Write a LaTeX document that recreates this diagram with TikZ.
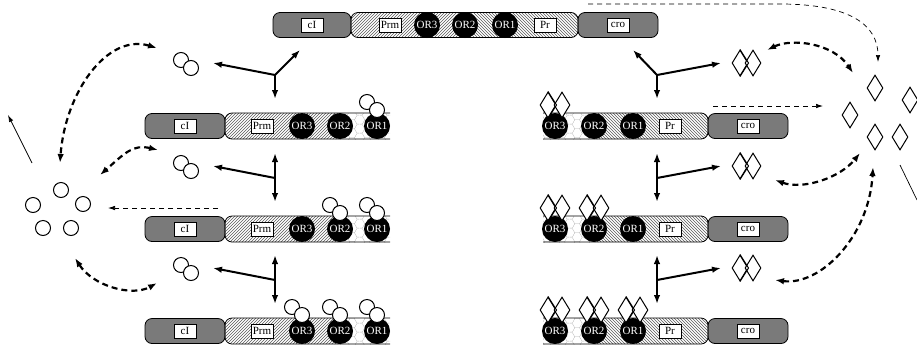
\documentclass[tikz,border=0pt]{standalone}
\usepackage{fontspec}
\setmainfont{Liberation Serif}
\usetikzlibrary{arrows.meta,patterns,shapes.geometric,positioning}

\pgfdeclarepatternformonly{hexcells}{\pgfpointorigin}{\pgfpoint{15pt}{8.66pt}}{\pgfpoint{15pt}{8.66pt}}{%
  \pgfsetlinewidth{0.3pt}%
  \pgfpathmoveto{\pgfpoint{0pt}{0pt}}\pgfpathlineto{\pgfpoint{2.5pt}{0pt}}%
  \pgfpathlineto{\pgfpoint{5pt}{4.33pt}}\pgfpathlineto{\pgfpoint{2.5pt}{8.66pt}}%
  \pgfpathlineto{\pgfpoint{0pt}{8.66pt}}%
  \pgfpathmoveto{\pgfpoint{5pt}{4.33pt}}\pgfpathlineto{\pgfpoint{10pt}{4.33pt}}%
  \pgfpathmoveto{\pgfpoint{15pt}{0pt}}\pgfpathlineto{\pgfpoint{12.5pt}{0pt}}%
  \pgfpathlineto{\pgfpoint{10pt}{4.33pt}}\pgfpathlineto{\pgfpoint{12.5pt}{8.66pt}}%
  \pgfpathlineto{\pgfpoint{15pt}{8.66pt}}%
  \pgfusepath{stroke}}

\begin{document}
\begin{tikzpicture}[x=1pt, y=-1pt, font=\fontsize{11}{12}\selectfont, line width=0.8pt,
  >={Latex[length=9pt,width=6.5pt]},
  gene/.style={draw, rounded corners=7pt, fill=black!52, minimum height=25pt, inner sep=0pt},
  seg/.style={draw, rounded corners=7pt},
  hatchPrm/.style={pattern=north east lines, pattern color=black!65},
  hatchPr/.style={pattern=north west lines, pattern color=black!65},
  honey/.style={pattern=hexcells, pattern color=black!30},
  tag/.style={draw, fill=white, minimum height=14pt, minimum width=22pt, inner sep=2pt, line width=0.6pt},
  opr/.style={circle, fill=black, text=white, minimum size=26pt, inner sep=0pt},
  ci/.style={circle, draw, fill=white, minimum size=15pt, inner sep=0pt, line width=1pt},
  cro/.style={diamond, draw, fill=white, minimum width=16pt, minimum height=26pt, inner sep=0pt, line width=1pt},
  bind/.style={line width=2pt},
  flow/.style={line width=2.2pt, dash pattern=on 6pt off 4pt, <->},
  leak/.style={line width=0.7pt, dash pattern=on 5pt off 4pt, -{Latex[length=7pt,width=4.5pt]}},
  lost/.style={line width=0.7pt, -{Latex[length=7pt,width=4.5pt]}}]
\useasboundingbox (0,0) rectangle (917,349);

% operon before any repressor is made
\node[gene, minimum width=78pt] (cItop) at (312,25) {};
\node[gene, minimum width=80pt] (crotop) at (618,25) {};
\begin{scope}
  \clip (340,0) rectangle (465,50);
  \fill[hatchPrm, rounded corners=7pt] (351,12.5) rectangle (578,37.5);
\end{scope}
\begin{scope}
  \clip (465,0) rectangle (590,50);
  \fill[hatchPr, rounded corners=7pt] (351,12.5) rectangle (578,37.5);
\end{scope}
\draw[seg] (351,12.5) rectangle (578,37.5);
\node[tag] (cItagtop) at (cItop) {cI};
\node[tag] (crotagtop) at (crotop) {cro};
\node[tag] (prmtop) at (390,25) {Prm};
\node[tag] (prtop) at (545,25) {Pr};
\foreach \n/\x in {3/427,2/465,1/505}
  \node[opr] (or\n top) at (\x,25) {OR\n};

% cI side
\foreach \r/\y in {1/126,2/229,3/331}{
  \node[gene, minimum width=80pt] (cIL\r) at (185,\y) {};
  \begin{scope}
    \clip (200,\y-20) rectangle (340,\y+20);
    \fill[hatchPrm, rounded corners=7pt] (225,\y-13) rectangle (400,\y+13);
  \end{scope}
  \begin{scope}
    \clip (340,\y-20) rectangle (390,\y+20);
    \fill[honey] (300,\y-13) rectangle (400,\y+13);
  \end{scope}
  \begin{scope}
    \clip (140,\y-20) rectangle (390,\y+20);
    \draw[seg] (225,\y-13) rectangle (400,\y+13);
  \end{scope}
  \node[tag] (cItagL\r) at (cIL\r) {cI};
  \node[tag] (prmL\r) at (262,\y) {Prm};
  \foreach \n/\x in {3/302,2/340,1/377}
    \node[opr] (orL\r\n) at (\x,\y) {OR\n};
  \foreach \n/\x in {3/302,2/340,1/377}{
    \ifnum\n>\r\else
      \node[ci] (bLa\r\n) at (\x-10,\y-24) {};
      \node[ci] (bLb\r\n) at (\x,\y-16) {};
    \fi}
  \node[ci] (dLa\r) at (181,\y-66) {};
  \node[ci] (dLb\r) at (191,\y-58) {};
  \coordinate (jL\r) at (275,\y-51);
  \coordinate (tL\r) at (213,\y-63);
  \coordinate (downL\r) at (275,\y-27);
  \coordinate (upL\r) at (275,\y-76);
  \draw[bind, ->] (jL\r) -- (tL\r);
  \draw[bind, ->] (jL\r) -- (downL\r);
  \ifnum\r>1 \draw[bind, ->] (jL\r) -- (upL\r); \fi
}
\coordinate (upL0) at (300,50);
\draw[bind, ->] (jL1) -- (upL0);

% cro side
\foreach \r/\y in {1/126,2/229,3/331}{
  \node[gene, minimum width=80pt] (croR\r) at (748,\y) {};
  \begin{scope}
    \clip (543,\y-20) rectangle (594,\y+20);
    \fill[honey] (530,\y-13) rectangle (600,\y+13);
  \end{scope}
  \begin{scope}
    \clip (594,\y-20) rectangle (720,\y+20);
    \fill[hatchPr, rounded corners=7pt] (533,\y-13) rectangle (708,\y+13);
  \end{scope}
  \begin{scope}
    \clip (543,\y-20) rectangle (720,\y+20);
    \draw[seg] (533,\y-13) rectangle (708,\y+13);
  \end{scope}
  \node[tag] (crotagR\r) at (croR\r) {cro};
  \node[tag] (prR\r) at (670,\y) {Pr};
  \foreach \n/\x in {3/555,2/594,1/633}
    \node[opr] (orR\r\n) at (\x,\y) {OR\n};
  \foreach \n/\x in {3/555,2/594,1/633}{
    \ifnum\numexpr4-\n\relax>\r\else
      \node[cro] (bRa\r\n) at (\x-7,\y-21) {};
      \node[cro] (bRb\r\n) at (\x+7,\y-21) {};
      \draw[line width=1pt] (bRa\r\n.north) -- (bRa\r\n.east) -- (bRa\r\n.south);
    \fi}
  \node[cro] (dRa\r) at (740,\y-63) {};
  \node[cro] (dRb\r) at (753,\y-63) {};
  \draw[line width=1pt] (dRa\r.north) -- (dRa\r.east) -- (dRa\r.south);
  \coordinate (jR\r) at (657,\y-51);
  \coordinate (tR\r) at (721,\y-63);
  \coordinate (downR\r) at (657,\y-27);
  \coordinate (upR\r) at (657,\y-76);
  \draw[bind, ->] (jR\r) -- (tR\r);
  \draw[bind, ->] (jR\r) -- (downR\r);
  \ifnum\r>1 \draw[bind, ->] (jR\r) -- (upR\r); \fi
}
\coordinate (upR0) at (633,50);
\draw[bind, ->] (jR1) -- (upR0);

% free repressors
\foreach \i/\x/\y in {1/61/190,2/33/205,3/83/204,4/43/228,5/71/228}
  \node[ci] (poolL\i) at (\x,\y) {};
\foreach \i/\x/\y in {1/875/88,2/910/100,3/850/115,4/875/137,5/900/137}
  \node[cro] (poolR\i) at (\x,\y) {};

% exchange with the pools
\coordinate (pL1) at (157,48);  \coordinate (qL1) at (60,163);
\coordinate (pL2) at (158,150); \coordinate (qL2) at (100,175);
\coordinate (pL3) at (157,283); \coordinate (qL3) at (75,258);
\coordinate (pR1) at (767,50);  \coordinate (qR1) at (853,73);
\coordinate (pR2) at (775,180); \coordinate (qR2) at (860,153);
\coordinate (pR3) at (775,280); \coordinate (qR3) at (873,167);
\draw[flow] (pL1) .. controls +(-50,-15) and +(5,-70) .. (qL1);
\draw[flow] (pL2) .. controls +(-25,-6) and +(25,-22) .. (qL2);
\draw[flow] (qL3) .. controls +(18,28) and +(-25,14) .. (pL3);
\draw[flow] (pR1) .. controls +(25,-12) and +(-20,-30) .. (qR1);
\draw[flow] (pR2) .. controls +(28,10) and +(-20,25) .. (qR2);
\draw[flow] (pR3) .. controls +(45,6) and +(-4,70) .. (qR3);

% leakage and decay
\coordinate (lk1a) at (588,4);   \coordinate (lk1b) at (878,62);
\coordinate (lk2a) at (713,106); \coordinate (lk2b) at (823,106);
\coordinate (lk3a) at (218,208); \coordinate (lk3b) at (108,208);
\coordinate (out1a) at (32,163); \coordinate (out1b) at (8,115);
\coordinate (out2a) at (900,165); \coordinate (out2b) at (917,200);
\draw[leak] (lk1a) -- +(192,0) .. controls +(70,0) and +(0,-37) .. (lk1b);
\draw[leak] (lk2a) -- (lk2b);
\draw[leak] (lk3a) -- (lk3b);
\draw[lost] (out1a) -- (out1b);
\draw[line width=0.7pt] (out2a) -- (out2b);
\end{tikzpicture}
\end{document}
